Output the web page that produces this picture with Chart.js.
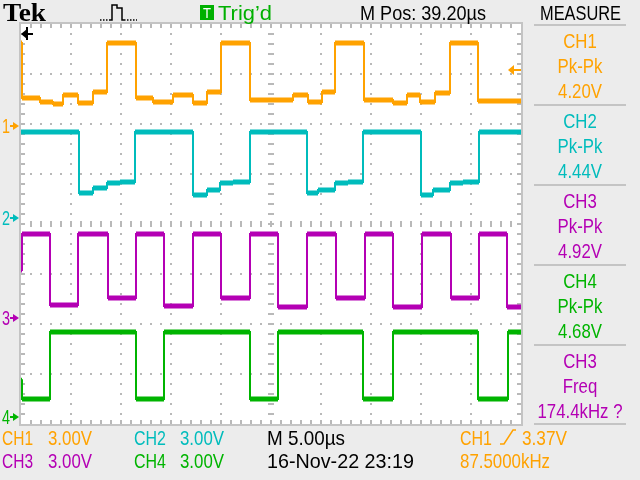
<!DOCTYPE html>
<html>
<head>
<meta charset="utf-8">
<script src="https://cdn.jsdelivr.net/npm/chart.js@4/dist/chart.umd.min.js"></script>
<style>
  html, body { margin: 0; padding: 0; background: #ececec; }
  canvas { display: block; }
</style>
</head>
<body>
<canvas id="scope" width="640" height="480"></canvas>
<script>
// time in microseconds (5 us/div, 10 divisions), levels in volts (3 V/div)
// each level starts at the matching time and holds until the next one
const ch1Times = [0, 0.1, 1.9, 3.2, 4.2, 5.7, 7.2, 8.6, 11.5, 13.2, 15.2, 17.2, 18.6, 20.0, 22.9, 27.2, 28.7, 30.1, 31.4, 34.3, 37.2, 38.6, 39.9, 41.4, 42.9, 45.7, 50];
const ch1Volts = [4.98, 1.68, 1.44, 1.32, 1.86, 1.38, 2.04, 4.98, 1.68, 1.44, 1.86, 1.38, 2.04, 4.98, 1.56, 1.86, 1.44, 2.04, 4.98, 1.56, 1.38, 1.86, 1.44, 1.98, 4.98, 1.5, 1.5];

const ch2Times = [0, 5.8, 7.2, 8.6, 9.9, 11.4, 17.2, 18.6, 19.9, 21.2, 22.9, 28.6, 29.7, 31.4, 32.7, 34.2, 40.0, 41.2, 42.9, 44.2, 45.8, 50];
const ch2Volts = [5.16, 1.5, 1.8, 2.1, 2.16, 5.16, 1.38, 1.68, 2.1, 2.16, 5.16, 1.5, 1.68, 2.1, 2.16, 5.16, 1.38, 1.68, 2.1, 2.16, 5.16, 5.16];

const ch3Times = [0, 0.1, 2.9, 5.7, 8.7, 11.5, 14.3, 17.2, 20.0, 22.9, 25.7, 28.6, 31.5, 34.4, 37.2, 40.1, 43.0, 45.8, 48.6, 50];
const ch3Volts = [2.88, 5.04, 0.78, 5.04, 1.2, 5.04, 0.72, 5.04, 1.2, 5.04, 0.66, 5.04, 1.2, 5.04, 0.66, 5.04, 1.2, 5.04, 0.66, 0.66];

const ch4Times = [0, 0.1, 2.9, 11.5, 14.3, 22.9, 25.7, 34.2, 37.2, 45.7, 48.7, 50];
const ch4Volts = [2.2, 1.08, 5.1, 1.08, 5.1, 1.08, 5.1, 1.08, 5.1, 1.08, 5.1, 5.1];

// ground marker of each channel, in divisions from the bottom
const groundDivs = [5.96, 4.12, 2.12, 0.14];
const voltsPerDiv = 3;
const trigLevel = 3.37;

const colors = ["#ffa200", "#00bcbc", "#b400b4", "#00b400"];

const measureLines = [
  ["CH1", "Pk-Pk", "4.20V"],
  ["CH2", "Pk-Pk", "4.44V"],
  ["CH3", "Pk-Pk", "4.92V"],
  ["CH4", "Pk-Pk", "4.68V"],
  ["CH3", "Freq", "174.4kHz ?"],
];
const measureColors = [colors[0], colors[1], colors[2], colors[3], colors[2]];

function edgePoints(times, volts, ground) {
  return times.map((t, i) => ({ x: t, y: ground + volts[i] / voltsPerDiv }));
}

// flat parts only, drawn thicker to look like the noisy trace
function flatPoints(times, volts, ground) {
  const pts = [];
  for (let i = 0; i < times.length - 1; i++) {
    const y = ground + volts[i] / voltsPerDiv;
    pts.push({ x: times[i], y: y }, { x: times[i + 1], y: y }, { x: times[i + 1], y: null });
  }
  return pts;
}

const channels = [
  [ch1Times, ch1Volts],
  [ch2Times, ch2Volts],
  [ch3Times, ch3Volts],
  [ch4Times, ch4Volts],
];

const datasets = [];
channels.forEach((ch, i) => {
  datasets.push({
    data: flatPoints(ch[0], ch[1], groundDivs[i]),
    borderColor: colors[i],
    borderWidth: 5,
    pointRadius: 0,
    spanGaps: false,
    borderCapStyle: "butt",
  });
  datasets.push({
    data: edgePoints(ch[0], ch[1], groundDivs[i]),
    borderColor: colors[i],
    borderWidth: 2,
    pointRadius: 0,
    stepped: true,
  });
});

function label(ctx, text, x, y, color, opts) {
  opts = opts || {};
  const size = opts.size || 21;
  ctx.save();
  ctx.font = (opts.weight || "") + " " + size + "px " + (opts.family || '"Liberation Sans", Arial, sans-serif');
  ctx.fillStyle = color;
  ctx.textBaseline = "alphabetic";
  ctx.textAlign = "left";
  const w = ctx.measureText(text).width;
  const sx = opts.width ? opts.width / w : 0.8;
  let left = x;
  if (opts.align === "center") left = x - (w * sx) / 2;
  ctx.translate(left, y + size * 0.36);
  ctx.scale(sx, 1);
  ctx.fillText(text, 0, 0);
  ctx.restore();
}

const graticule = {
  id: "graticule",
  beforeDraw(chart) {
    const ctx = chart.ctx;
    const a = chart.chartArea;
    ctx.save();
    ctx.fillStyle = "#ececec";
    ctx.fillRect(0, 0, chart.width, chart.height);
    ctx.fillStyle = "#ffffff";
    ctx.fillRect(a.left, a.top, a.right - a.left, a.bottom - a.top);
    ctx.restore();
  },
  beforeDatasetsDraw(chart) {
    const ctx = chart.ctx;
    const xs = chart.scales.x;
    const ys = chart.scales.y;
    const a = chart.chartArea;
    ctx.save();
    ctx.fillStyle = "#b9b9b9";
    // dotted division lines
    for (let t = 5; t < 50; t += 5) {
      if (t === 25) continue;
      const px = Math.round(xs.getPixelForValue(t));
      for (let d = 0.2; d < 8; d += 0.2) {
        ctx.fillRect(px - 1, Math.round(ys.getPixelForValue(d)) - 1, 2, 2);
      }
    }
    for (let d = 1; d < 8; d++) {
      if (d === 4) continue;
      const py = Math.round(ys.getPixelForValue(d));
      for (let t = 1; t < 50; t += 1) {
        ctx.fillRect(Math.round(xs.getPixelForValue(t)) - 1, py - 1, 2, 2);
      }
    }
    // centre lines with minor ticks
    const cx = Math.round(xs.getPixelForValue(25));
    const cy = Math.round(ys.getPixelForValue(4));
    for (let d = 0.2; d < 8; d += 0.2) {
      ctx.fillRect(cx - 3, Math.round(ys.getPixelForValue(d)) - 1, 6, 2);
    }
    for (let t = 1; t < 50; t += 1) {
      ctx.fillRect(Math.round(xs.getPixelForValue(t)) - 1, cy - 3, 2, 6);
    }
    // border ticks
    for (let t = 1; t < 50; t += 1) {
      const px = Math.round(xs.getPixelForValue(t));
      ctx.fillRect(px - 1, a.top, 2, 4);
      ctx.fillRect(px - 1, a.bottom - 4, 2, 4);
    }
    for (let d = 0.2; d < 8; d += 0.2) {
      const py = Math.round(ys.getPixelForValue(d));
      ctx.fillRect(a.left, py - 1, 4, 2);
      ctx.fillRect(a.right - 4, py - 1, 4, 2);
    }
    ctx.strokeStyle = "#c4c4c4";
    ctx.lineWidth = 2;
    ctx.strokeRect(a.left - 1, a.top - 1, a.right - a.left + 2, a.bottom - a.top + 2);
    ctx.restore();
  },
  afterDraw(chart) {
    const ctx = chart.ctx;
    const ys = chart.scales.y;
    const a = chart.chartArea;
    ctx.save();

    // horizontal position marker (trigger off screen to the left)
    ctx.fillStyle = "#000";
    ctx.strokeStyle = "#000";
    ctx.lineWidth = 2;
    ctx.beginPath();
    ctx.moveTo(a.left, a.top + 10);
    ctx.lineTo(a.left + 6, a.top + 5);
    ctx.lineTo(a.left + 6, a.top + 15);
    ctx.closePath();
    ctx.fill();
    ctx.beginPath();
    ctx.moveTo(a.left + 5, a.top + 10);
    ctx.lineTo(a.left + 12, a.top + 10);
    ctx.moveTo(a.left + 6, a.top + 3);
    ctx.lineTo(a.left + 6, a.top + 16);
    ctx.stroke();

    // trigger level marker
    const ty = Math.round(ys.getPixelForValue(groundDivs[0] + trigLevel / voltsPerDiv));
    ctx.fillStyle = colors[0];
    ctx.strokeStyle = colors[0];
    ctx.beginPath();
    ctx.moveTo(a.right - 13, ty);
    ctx.lineTo(a.right - 7, ty - 5);
    ctx.lineTo(a.right - 7, ty + 5);
    ctx.closePath();
    ctx.fill();
    ctx.beginPath();
    ctx.moveTo(a.right - 8, ty);
    ctx.lineTo(a.right, ty);
    ctx.stroke();

    // channel ground markers
    groundDivs.forEach((g, i) => {
      const gy = Math.round(ys.getPixelForValue(g));
      label(ctx, String(i + 1), 2, gy, colors[i], { size: 20, width: 8 });
      ctx.fillStyle = colors[i];
      ctx.strokeStyle = colors[i];
      ctx.lineWidth = 2;
      ctx.beginPath();
      ctx.moveTo(10, gy);
      ctx.lineTo(14, gy);
      ctx.stroke();
      ctx.beginPath();
      ctx.moveTo(13, gy - 4);
      ctx.lineTo(19, gy);
      ctx.lineTo(13, gy + 4);
      ctx.closePath();
      ctx.fill();
    });

    // top bar
    label(ctx, "Tek", 3, 12, "#000", { size: 26, weight: "bold", family: '"Liberation Serif", serif', width: 43 });
    ctx.strokeStyle = "#000";
    ctx.lineWidth = 1.5;
    ctx.setLineDash([1.5, 1.5]);
    ctx.beginPath();
    ctx.moveTo(100, 20);
    ctx.lineTo(110, 20);
    ctx.moveTo(124, 20);
    ctx.lineTo(137, 20);
    ctx.stroke();
    ctx.setLineDash([]);
    ctx.beginPath();
    ctx.moveTo(110, 20);
    ctx.lineTo(112, 20);
    ctx.lineTo(112, 5);
    ctx.lineTo(117, 5);
    ctx.lineTo(117, 8);
    ctx.lineTo(122, 8);
    ctx.lineTo(122, 20);
    ctx.lineTo(124, 20);
    ctx.stroke();

    ctx.fillStyle = "#00b000";
    ctx.fillRect(200, 5, 14, 15);
    label(ctx, "T", 203, 12.5, "#fff", { size: 15, width: 8 });
    label(ctx, "Trig\u2019d", 218, 12, "#00b000", { width: 54 });
    label(ctx, "M Pos: 39.20\u00b5s", 360, 12, "#000", { width: 126 });
    label(ctx, "MEASURE", 540, 12, "#000", { width: 81 });

    // measure panel
    ctx.fillStyle = "#c4c4c4";
    [25, 105, 185, 265, 345, 424].forEach((sy) => ctx.fillRect(534, sy - 1, 92, 2));
    measureLines.forEach((lines, b) => {
      const top = 25 + b * 80;
      lines.forEach((s, k) => {
        label(ctx, s, 580, top + 15 + k * 25, measureColors[b], { align: "center" });
      });
    });

    // bottom readout
    label(ctx, "CH1", 2, 437, colors[0], { width: 31 });
    label(ctx, "3.00V", 48, 437, colors[0], { width: 44 });
    label(ctx, "CH2", 134, 437, colors[1], { width: 32 });
    label(ctx, "3.00V", 180, 437, colors[1], { width: 44 });
    label(ctx, "M 5.00\u00b5s", 267, 437, "#000", { width: 78 });
    label(ctx, "CH1", 460, 437, colors[0], { width: 32 });
    ctx.strokeStyle = colors[0];
    ctx.lineWidth = 1.5;
    ctx.beginPath();
    ctx.moveTo(500, 444);
    ctx.lineTo(504, 444);
    ctx.lineTo(513, 430);
    ctx.lineTo(516, 430);
    ctx.stroke();
    label(ctx, "3.37V", 522, 437, colors[0], { width: 45 });

    label(ctx, "CH3", 2, 460, colors[2], { width: 31 });
    label(ctx, "3.00V", 48, 460, colors[2], { width: 44 });
    label(ctx, "CH4", 134, 460, colors[3], { width: 32 });
    label(ctx, "3.00V", 180, 460, colors[3], { width: 44 });
    label(ctx, "16-Nov-22 23:19", 267, 460, "#000", { width: 147 });
    label(ctx, "87.5000kHz", 460, 460, colors[0], { width: 90 });

    ctx.restore();
  },
};

new Chart(document.getElementById("scope"), {
  type: "line",
  data: { datasets: datasets },
  options: {
    responsive: false,
    animation: false,
    devicePixelRatio: 1,
    layout: { padding: { left: 21, right: 119, top: 24, bottom: 56 } },
    scales: {
      x: { type: "linear", min: 0, max: 50, display: false },
      y: { type: "linear", min: 0, max: 8, display: false },
    },
    plugins: { legend: { display: false }, tooltip: { enabled: false } },
    elements: { line: { tension: 0 } },
  },
  plugins: [graticule],
});
</script>
</body>
</html>
